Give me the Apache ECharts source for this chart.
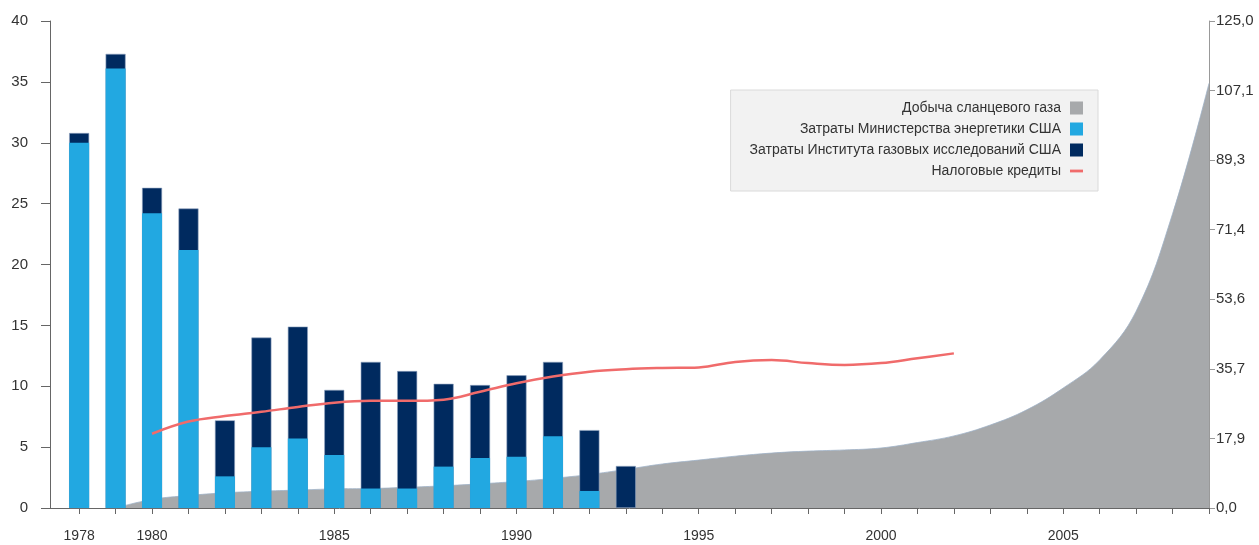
<!DOCTYPE html>
<html lang="ru">
<head>
    <meta charset="utf-8" />
    <title>Сланцевый газ</title>
    <script src="https://cdn.jsdelivr.net/npm/echarts@6/dist/echarts.min.js"></script>
    <style>
        html, body { margin: 0; padding: 0; background: #fff; }
        #main { width: 1259px; height: 545px; }
    </style>
</head>
<body>
<div id="main"></div>
<script>
// годы
var years = [1978, 1979, 1980, 1981, 1982, 1983, 1984, 1985, 1986, 1987, 1988, 1989,
    1990, 1991, 1992, 1993, 1994, 1995, 1996, 1997, 1998, 1999, 2000, 2001, 2002,
    2003, 2004, 2005, 2006, 2007, 2008, 2009];
var labelYears = [1978, 1980, 1985, 1990, 1995, 2000, 2005];

// затраты Минэнерго (1978-1993)
var doe = [30.0, 36.1, 24.2, 21.2, 2.6, 5.0, 5.7, 4.35, 1.6, 1.6, 3.4, 4.1, 4.2, 5.9, 1.4, 0];
// затраты Института газовых исследований (1978-1993)
var gri = [0.8, 1.2, 2.1, 3.4, 4.6, 9.0, 9.2, 5.35, 10.4, 9.65, 6.8, 6.0, 6.7, 6.1, 5.0, 3.45];

// налоговые кредиты (1980-2002)
var creditYears = [1980, 1981, 1982, 1983, 1984, 1985, 1986, 1987, 1988, 1989, 1990, 1991,
    1992, 1993, 1994, 1995, 1996, 1997, 1998, 1999, 2000, 2001, 2002];
var credits = [6.1, 7.1, 7.55, 7.9, 8.3, 8.65, 8.8, 8.8, 8.9, 9.55, 10.25, 10.8,
    11.2, 11.4, 11.5, 11.55, 12.0, 12.15, 11.9, 11.75, 11.9, 12.3, 12.7];

// добыча сланцевого газа (1979-2009), правая шкала
var gasYears = years.slice(1);
var gas = [0, 2.2, 3.2, 3.9, 4.3, 4.6, 4.9, 5.0, 5.3, 5.7, 6.2, 6.8, 7.6, 8.6, 9.9,
    11.3, 12.3, 13.3, 14.1, 14.6, 14.9, 15.4, 16.8, 18.5, 21.3, 25.2, 30.8, 38.0,
    50.5, 75.5, 109];

var rightMax = 125;

var names = ['Добыча сланцевого газа', 'Затраты Министерства энергетики США',
    'Затраты Института газовых исследований США', 'Налоговые кредиты'];

function pairs(xs, ys) {
    return ys.map(function (v, i) { return [xs[i], v]; });
}

var myChart = echarts.init(document.getElementById('main'));
var font = '"Liberation Sans", Arial, sans-serif';
// короткая линия для легенды (невидимые точки задают рамку 13x13)
var lineIcon = 'path://M0,0 L0,0 M0,5 L14,5 L14,8 L0,8 Z M14,13 L14,13';

var option = {
    animation: false,
    grid: { left: 50, right: 50, top: 21, bottom: 37 },
    legend: {
        orient: 'vertical',
        align: 'right',
        right: 161,
        top: 90,
        data: [
            { name: names[0], icon: 'rect' },
            { name: names[1], icon: 'rect' },
            { name: names[2], icon: 'rect', itemStyle: { borderWidth: 0 } },
            { name: names[3], icon: lineIcon }
        ],
        itemWidth: 13,
        itemHeight: 13,
        itemGap: 7,
        padding: [11, 15, 13, 19],
        backgroundColor: '#f2f2f2',
        borderColor: '#dadada',
        borderWidth: 1,
        textStyle: { fontSize: 14, color: '#333', fontFamily: font, padding: [0, 4, 0, 0] }
    },
    xAxis: {
        type: 'value',
        min: 1977.2,
        max: 2009,
        splitLine: { show: false },
        axisLine: { lineStyle: { color: '#666' } },
        axisTick: { length: 6, lineStyle: { color: '#666' }, customValues: years },
        axisLabel: {
            customValues: labelYears,
            formatter: function (v) { return String(v); },
            margin: 21,
            fontSize: 14,
            color: '#333',
            fontFamily: '"Liberation Sans Narrow", "Liberation Sans", Arial, sans-serif'
        }
    },
    yAxis: [
        {
            type: 'value',
            min: 0, max: 40, interval: 5,
            splitLine: { show: false },
            axisLine: { show: true, lineStyle: { color: '#666' } },
            axisTick: { show: true, length: 9, lineStyle: { color: '#666' } },
            axisLabel: { margin: 22, fontSize: 15, color: '#333', fontFamily: font }
        },
        {
            type: 'value',
            min: 0, max: rightMax, interval: rightMax / 7,
            splitLine: { show: false },
            axisLine: { show: true, lineStyle: { color: '#999' } },
            axisTick: { show: true, length: 6, lineStyle: { color: '#999' } },
            axisLabel: {
                margin: 7, fontSize: 15, color: '#333', fontFamily: font,
                formatter: function (v) { return v.toFixed(1).replace('.', ','); }
            }
        }
    ],
    series: [
        {
            name: names[0],
            type: 'line',
            yAxisIndex: 1,
            smooth: 0.4,
            symbol: 'none',
            z: 1,
            itemStyle: { color: '#a7a9ab' },
            lineStyle: { width: 0.8, color: '#9fb3c8' },
            areaStyle: { color: '#a7a9ab', opacity: 1 },
            data: pairs(gasYears, gas)
        },
        {
            name: names[2],
            type: 'bar',
            barWidth: 20,
            z: 2,
            itemStyle: { color: '#002a5f', borderColor: '#8ea3c0', borderWidth: 0.6 },
            data: pairs(years, doe.map(function (v, i) { return v + gri[i]; }))
        },
        {
            name: names[1],
            type: 'bar',
            barWidth: 20,
            barGap: '-100%',
            z: 2,
            itemStyle: { color: '#22a8e1' },
            data: pairs(years, doe)
        },
        {
            name: names[3],
            type: 'line',
            smooth: 0.4,
            symbol: 'none',
            z: 3,
            itemStyle: { color: '#f06b6b' },
            lineStyle: { width: 2.5, color: '#f06b6b' },
            data: pairs(creditYears, credits)
        }
    ]
};

option && myChart.setOption(option);
</script>
</body>
</html>
